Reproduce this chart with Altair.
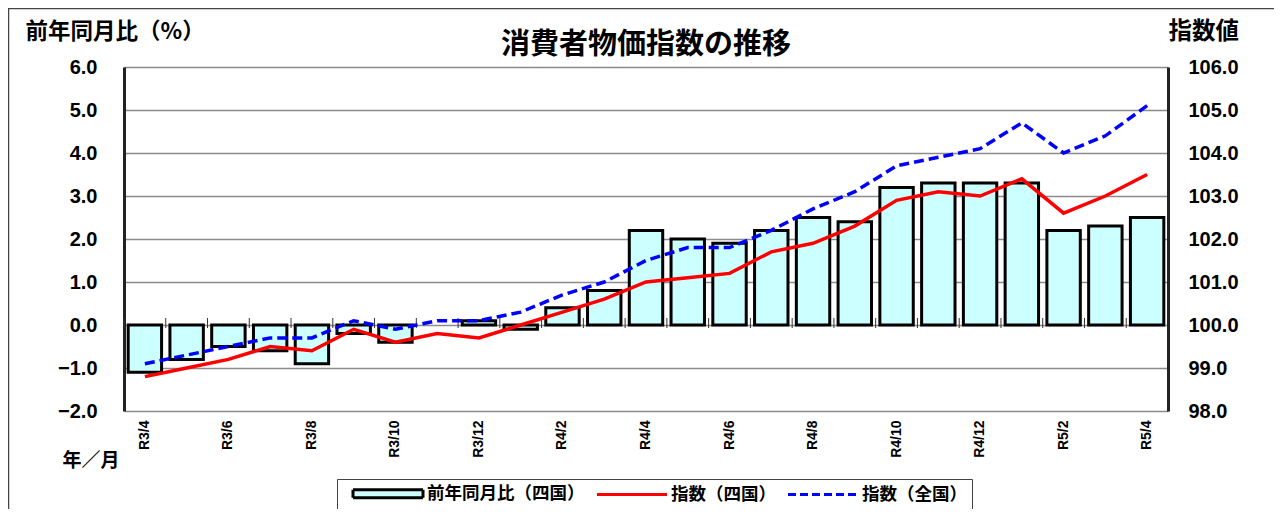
import altair as alt
import pandas as pd

# ---------------- data ----------------
months = ["R3/4", "R3/5", "R3/6", "R3/7", "R3/8", "R3/9", "R3/10", "R3/11", "R3/12",
          "R4/1", "R4/2", "R4/3", "R4/4", "R4/5", "R4/6", "R4/7", "R4/8", "R4/9",
          "R4/10", "R4/11", "R4/12", "R5/1", "R5/2", "R5/3", "R5/4"]
yoy_shikoku = [-1.1, -0.8, -0.5, -0.6, -0.9, -0.2, -0.4, 0.0, 0.1,
               -0.1, 0.4, 0.8, 2.2, 2.0, 1.9, 2.2, 2.5, 2.4,
               3.2, 3.3, 3.3, 3.3, 2.2, 2.3, 2.5]
index_shikoku = [98.8, 99.0, 99.2, 99.5, 99.4, 99.9, 99.6, 99.8, 99.7,
                 100.0, 100.3, 100.6, 101.0, 101.1, 101.2, 101.7, 101.9, 102.3,
                 102.9, 103.1, 103.0, 103.4, 102.6, 103.0, 103.5]
index_zenkoku = [99.1, 99.3, 99.5, 99.7, 99.7, 100.1, 99.9, 100.1, 100.1,
                 100.3, 100.7, 101.0, 101.5, 101.8, 101.8, 102.2, 102.7, 103.1,
                 103.7, 103.9, 104.1, 104.7, 104.0, 104.4, 105.1]
series_names = ["前年同月比（四国）", "指数（四国）", "指数（全国）"]
left_ticks = [-2, -1, 0, 1, 2, 3, 4, 5, 6]
right_ticks = [98, 99, 100, 101, 102, 103, 104, 105, 106]
x_label_values = months[::2]

df = pd.DataFrame({"month": months, "yoy": yoy_shikoku,
                   "shikoku": index_shikoku, "zenkoku": index_zenkoku})
leg_df = pd.DataFrame({"series": series_names})

JP = "Noto Sans CJK JP"
NUM = "Liberation Sans"

W, H = 1044, 344
STEP = W / (len(months))

xscale = alt.Scale(domain=months, paddingInner=0.2, paddingOuter=0.1)

x_axis = alt.Axis(
    orient="bottom", values=x_label_values, labelAngle=270, labelFont=NUM,
    labelFontSize=14, labelFontWeight="bold", labelColor="black",
    labelPadding=9, ticks=False, domain=False, grid=False, title="年／月",
    titleFont=JP, titleFontSize=19, titleFontWeight="bold", titleColor="black",
    titleAngle=0, titleAlign="left", titleBaseline="middle",
    titleX=-62, titleY=49)

left_axis = alt.Axis(
    values=left_ticks, format=".1f", labelFont=NUM, labelFontSize=20,
    labelFontWeight="bold", labelColor="black", labelPadding=27, ticks=False,
    domainColor="#222", domainWidth=3, grid=True, gridColor="#8c8c8c",
    gridWidth=1.3, title="前年同月比（%）", titleFont=JP, titleFontSize=22.5,
    titleFontWeight="bold", titleColor="black", titleAngle=0,
    titleAlign="left", titleBaseline="middle", titleX=-99, titleY=-36)

right_axis = alt.Axis(
    orient="right", values=right_ticks, format=".1f", labelFont=NUM,
    labelFontSize=20, labelFontWeight="bold", labelColor="black",
    labelPadding=20, ticks=False, domainColor="#222", domainWidth=3,
    grid=False, title="指数値", titleFont=JP, titleFontSize=23.5,
    titleFontWeight="bold", titleColor="black", titleAngle=0,
    titleAlign="left", titleBaseline="middle", titleX=0, titleY=-36)

lscale = alt.Scale(domain=[-2, 6], nice=False, zero=False)
rscale = alt.Scale(domain=[98, 106], nice=False, zero=False)

base = alt.Chart(df)

bars = base.transform_filter("datum.yoy != 0").mark_bar(
    fill="#CCFFFF", stroke="black", strokeWidth=3, strokeJoin="miter"
).encode(
    x=alt.X("month:N", sort=months, scale=xscale, axis=x_axis),
    y=alt.Y("yoy:Q", scale=lscale, axis=left_axis),
)

# small category-boundary ticks on the zero line
zero_ticks = base.mark_rule(
    color="#333", strokeWidth=1, xOffset=-0.1 * STEP, yOffset=-7, y2Offset=3
).encode(
    x=alt.X("month:N", sort=months, scale=xscale, axis=x_axis, bandPosition=0),
    y=alt.Y(datum=0, type="quantitative", scale=lscale, axis=left_axis),
    y2=alt.Y2(datum=0),
)

blue = base.mark_line(color="#0000FF", strokeWidth=3.5, strokeDash=[10, 5]).encode(
    x=alt.X("month:N", sort=months, scale=xscale, axis=x_axis),
    y=alt.Y("zenkoku:Q", scale=rscale, axis=right_axis),
)
red = base.mark_line(color="#FF0000", strokeWidth=3.5).encode(
    x=alt.X("month:N", sort=months, scale=xscale, axis=x_axis),
    y=alt.Y("shikoku:Q", scale=rscale, axis=right_axis),
)

rect_path = "M0.1875,-0.5H8.9375V0.5H0.1875Z"
line_path = "M0.1875,0H8.9375"

leg = alt.Legend(
    orient="none", legendX=213, legendY=412, direction="horizontal", title=None,
    symbolSize=256, symbolStrokeWidth=3, symbolOpacity=1, labelOffset=66,
    columnPadding=1, padding=5, strokeColor="#444", fillColor="white",
    labelFont=JP, labelFontSize=17.5, labelFontWeight="bold", labelColor="black")

legend_layer = alt.Chart(leg_df).mark_point(opacity=0, strokeWidth=3).encode(
    shape=alt.Shape("series:N", scale=alt.Scale(domain=series_names,
                    range=[rect_path, line_path, line_path]), legend=leg),
    fill=alt.Fill("series:N", scale=alt.Scale(domain=series_names,
                  range=["#CCFFFF", "transparent", "transparent"]), legend=leg),
    stroke=alt.Stroke("series:N", scale=alt.Scale(domain=series_names,
                      range=["black", "#FF0000", "#0000FF"]), legend=leg),
    strokeDash=alt.StrokeDash("series:N", scale=alt.Scale(domain=series_names,
                              range=[[1, 0], [1, 0], [8, 4]]), legend=leg),
)

frame = alt.Chart(pd.DataFrame({"f": [0]})).mark_rect(
    fill="transparent", stroke="#444", strokeWidth=1.5
).encode(x=alt.value(-115.5), x2=alt.value(3000), y=alt.value(-58.5), y2=alt.value(3000))

left_group = alt.layer(bars, zero_ticks)
right_group = alt.layer(blue, red)

chart = alt.layer(frame, left_group, right_group, legend_layer).resolve_scale(
    y="independent"
).resolve_axis(
    y="independent"
).properties(
    width=W, height=H,
    title=alt.TitleParams("消費者物価指数の推移", font=JP, fontSize=29,
                          fontWeight="bold", color="black", anchor="middle",
                          frame="group", baseline="middle", offset=-66),
    autosize=alt.AutoSizeParams(type="none"),
    padding={"left": 116, "top": 59, "right": 106, "bottom": 98},
).configure_view(
    stroke="#888", strokeWidth=3
).configure(background="white")

chart.save("out.html", embed_options={"renderer": "svg", "actions": False})
